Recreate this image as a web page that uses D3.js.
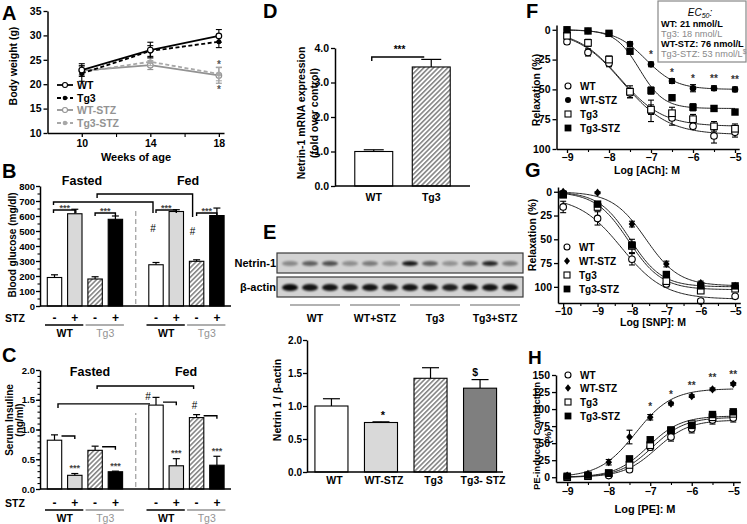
<!DOCTYPE html>
<html><head><meta charset="utf-8">
<script src="https://cdn.jsdelivr.net/npm/d3@7/dist/d3.min.js"></script>
<style>html,body{margin:0;padding:0;background:#fff;}svg{display:block;}</style>
</head><body>
<svg id="chart" width="747" height="524" xmlns="http://www.w3.org/2000/svg"></svg>
<script>
// ================= DATA =================
// Panel A: body weight
const weeksA = [10, 14, 18];
const seriesA = ["WT", "Tg3", "WT-STZ", "Tg3-STZ"];
const bwWT = [22.9, 27.0, 29.9];
const bwTg3 = [22.2, 26.8, 28.7];
const bwWTSTZ = [22.8, 23.9, 21.8];
const bwTg3STZ = [22.5, 24.6, 22.1];
const bwWTErr = [1.3, 1.6, 1.3];
const bwTg3Err = [1.6, 1.1, 1.2];
const bwWTSTZErr = [0.8, 0.9, 1.6];
const bwTg3STZErr = [0.7, 0.8, 1.4];
const ticksAY = [10, 15, 20, 25, 30, 35];
const ticksAX = [10, 14, 18];
const minorAX = [12, 16];

// Panels B, C: grouped bars
const feedStates = ["Fasted", "Fed"];
const genotypes = ["WT", "Tg3"];
const stzLevels = ["-", "+"];
const barCats = ["WT", "WT-STZ", "Tg3", "Tg3-STZ"];
const glucoseFasted = [190, 615, 180, 578];
const glucoseFastedErr = [18, 30, 15, 22];
const glucoseFed = [275, 630, 298, 603];
const glucoseFedErr = [15, 12, 10, 50];
const ticksB = [0, 100, 200, 300, 400, 500, 600, 700, 800];
const insulinFasted = [0.82, 0.23, 0.65, 0.29];
const insulinFastedErr = [0.09, 0.03, 0.07, 0.01];
const insulinFed = [1.41, 0.39, 1.20, 0.40];
const insulinFedErr = [0.13, 0.12, 0.05, 0.15];
const ticksC = [0, 0.5, 1.0, 1.5, 2.0];

// Panel D
const mrnaCats = ["WT", "Tg3"];
const mrna = [1.0, 3.45];
const mrnaErr = [0.05, 0.22];
const ticksD = [0, 1, 2, 3, 4];

// Panel E
const blotGroups = ["WT", "WT+STZ", "Tg3", "Tg3+STZ"];
const netrinBand = [0.35, 0.55, 0.62, 0.32, 0.42, 0.3, 0.88, 0.55, 0.3, 0.5, 0.82, 0.42];
const actinBand = [0.95, 0.9, 0.9, 0.88, 0.9, 0.86, 0.9, 0.9, 0.85, 0.92, 0.9, 0.92];
const eCats = ["WT", "WT-STZ", "Tg3", "Tg3- STZ"];
const netrinRatio = [1.0, 0.75, 1.42, 1.27];
const netrinRatioErr = [0.11, 0.01, 0.16, 0.13];
const ticksE = [0, 0.5, 1.0, 1.5, 2.0];

// Panels F, G, H (order: WT, WT-STZ, Tg3, Tg3-STZ)
const drGroups = ["WT", "WT-STZ", "Tg3", "Tg3-STZ"];
const logAch = [-9, -8.5, -8, -7.5, -7, -6.5, -6, -5.5, -5];
const fWT = [10, 19, 28, 53, 68, 74, 81, 89, 86];
const fWTSTZ = [0, 1, 3, 12, 29, 43, 49, 49, 50];
const fTg3 = [5, 11, 25, 52, 67, 70, 75, 81, 83];
const fTg3STZ = [0, 1, 3, 18, 51, 57, 65, 66, 69];
const fWTErr = [2, 3, 3, 4, 9, 6, 2, 6, 4];
const fWTSTZErr = [1, 1, 1, 2, 2, 2, 3, 2, 2];
const fTg3Err = [2, 3, 3, 5, 4, 5, 4, 4, 4];
const fTg3STZErr = [1, 1, 1, 2, 3, 2, 3, 2, 2];
const ec50Names = ["WT", "Tg3", "WT-STZ", "Tg3-STZ"];
const ec50nM = [21, 18, 76, 53];
const fFitTop = [88, 50, 81, 66];
const fFitHill = [0.8, 1.2, 0.85, 1.5];
const fStarX = [-7, -6.5, -6, -5.5, -5];
const fStarY = [21, 36, 40.5, 40.5, 42];
const fStars = ["*", "*", "*", "**", "**"];

const logSnp = [-10, -9, -8, -7, -6, -5];
const gWT = [16, 28, 71, 97, 115, 110];
const gWTSTZ = [0, 1, 34, 76, 96, 99];
const gTg3 = [3, 16, 57, 94, 104, 102];
const gTg3STZ = [3, 13, 56, 87, 99, 99];
const gWTErr = [6, 7, 6, 3, 2, 2];
const gWTSTZErr = [1, 1, 3, 3, 2, 1];
const gTg3Err = [2, 3, 7, 3, 2, 2];
const gTg3STZErr = [1, 2, 3, 3, 2, 1];
const gFitBottom = [5, 0, 0, 0];
const gFitTop = [113, 99, 103, 100];
const gFitLogEC50 = [-8.3, -7.6, -8.1, -8.05];
const gFitHill = [0.7, 0.9, 0.9, 0.95];

const logPe = [-9, -8.5, -8, -7.5, -7, -6.5, -6, -5.5, -5];
const hWT = [0, 1.5, 2.5, 11, 44, 59, 71, 84, 87];
const hWTSTZ = [2.5, 5, 22, 59, 88, 108, 119, 129, 137];
const hTg3 = [0, 1.5, 6, 18, 47, 69, 78, 88, 93];
const hTg3STZ = [1.5, 3, 6, 27, 55, 69, 76, 92, 96];
const hWTErr = [1, 1, 1, 2, 4, 6, 6, 6, 6];
const hWTSTZErr = [1, 1, 4, 10, 4, 2, 2, 2, 2];
const hTg3Err = [1, 1, 1, 4, 4, 4, 3, 3, 3];
const hTg3STZErr = [1, 1, 1, 2, 3, 3, 3, 3, 3];
const hFitTop = [84, 130, 88, 90];
const hFitLogEC50 = [-6.85, -7.35, -6.95, -7.05];
const hFitHill = [1.1, 1.0, 1.1, 1.1];
const hStarX = [-7, -6.5, -6, -5.5, -5];
const hStarY = [104, 122, 135, 146, 151];
const hStars = ["*", "*", "**", "**", "**"];

// ================= DRAW =================
const FONT = "'Liberation Sans', Arial, Helvetica, sans-serif";
const GRAY = "#939393";
const svg = d3.select("#chart");
svg.append("rect").attr("width", 747).attr("height", 524).attr("fill", "#fff");
const defs = svg.append("defs");
const pat = defs.append("pattern").attr("id", "hatch").attr("patternUnits", "userSpaceOnUse")
  .attr("width", 3.4).attr("height", 3.4).attr("patternTransform", "rotate(45)");
pat.append("rect").attr("width", 3.4).attr("height", 3.4).attr("fill", "#fff");
pat.append("line").attr("x1", 0.8).attr("y1", 0).attr("x2", 0.8).attr("y2", 3.4).attr("stroke", "#6a6a6a").attr("stroke-width", 1.3);
defs.append("filter").attr("id", "blur").attr("x", "-50%").attr("y", "-80%").attr("width", "200%").attr("height", "260%")
  .append("feGaussianBlur").attr("stdDeviation", 1.3);

const BAR_FILLS = ["#fff", "#d9d9d9", "url(#hatch)", "#000"];

function styleAxis(g, fs) {
  g.attr("font-family", FONT).attr("font-size", fs || 10.5).attr("font-weight", "bold");
  g.select(".domain").attr("stroke", "#000").attr("stroke-width", 1.5);
  g.selectAll(".tick line").attr("stroke", "#000").attr("stroke-width", 1.3);
  g.selectAll(".tick text").attr("fill", "#000");
}
function addAxis(parent, gen, tx, ty, fs) {
  const g = parent.append("g").attr("transform", `translate(${tx},${ty})`).call(gen);
  styleAxis(g, fs);
  return g;
}
function minorTicks(parent, gen, tx, ty) {
  const g = parent.append("g").attr("transform", `translate(${tx},${ty})`).call(gen.tickFormat(""));
  g.select(".domain").remove();
  g.selectAll(".tick line").attr("stroke", "#000").attr("stroke-width", 1.1);
}
function label(parent, x, y, s, o = {}) {
  const t = parent.append("text").attr("x", x).attr("y", y)
    .attr("font-family", FONT).attr("font-size", o.size || 10.5)
    .attr("font-weight", o.weight || "bold").attr("fill", o.fill || "#000")
    .attr("text-anchor", o.anchor || "middle").attr("dominant-baseline", "central");
  if (o.rotate) t.attr("transform", `rotate(-90,${x},${y})`);
  if (o.italic) t.attr("font-style", "italic");
  t.text(s);
  return t;
}
function panelLetter(x, y, s, size) {
  svg.append("text").attr("x", x).attr("y", y).attr("font-family", FONT).attr("font-size", size || 20)
    .attr("font-weight", "bold").text(s);
}
function hline(g, x1, x2, y, color, w) {
  return g.append("line").attr("x1", x1).attr("x2", x2).attr("y1", y).attr("y2", y).attr("stroke", color || "#000").attr("stroke-width", w || 1.1);
}
function vline(g, x, y1, y2, color, w) {
  return g.append("line").attr("x1", x).attr("x2", x).attr("y1", y1).attr("y2", y2).attr("stroke", color || "#000").attr("stroke-width", w || 1.1);
}
function errSym(g, x, y1, y2, cap, color) {
  vline(g, x, y1, y2, color);
  hline(g, x - cap / 2, x + cap / 2, y1, color);
  hline(g, x - cap / 2, x + cap / 2, y2, color);
}
function errUp(g, x, yBase, yTop, cap) {
  vline(g, x, yBase, yTop, "#000", 1.2);
  hline(g, x - cap / 2, x + cap / 2, yTop, "#000", 1.2);
}
function bracket(g, x1, x2, y, d1, d2, color) {
  g.append("path").attr("d", `M${x1},${y + d1}V${y}H${x2}V${y + d2}`)
    .attr("fill", "none").attr("stroke", color || "#000").attr("stroke-width", 1.4);
}
function marker(g, type, x, y, s) {
  s = s || 3.3;
  if (type === "circleOpen") g.append("circle").attr("cx", x).attr("cy", y).attr("r", s).attr("fill", "#fff").attr("stroke", "#000").attr("stroke-width", 1.1);
  else if (type === "circleFilled") g.append("circle").attr("cx", x).attr("cy", y).attr("r", s).attr("fill", "#000");
  else if (type === "squareOpen") g.append("rect").attr("x", x - s).attr("y", y - s).attr("width", 2 * s).attr("height", 2 * s).attr("fill", "#fff").attr("stroke", "#000").attr("stroke-width", 1.1);
  else if (type === "squareFilled") g.append("rect").attr("x", x - s - 0.4).attr("y", y - s - 0.4).attr("width", 2 * s + 0.8).attr("height", 2 * s + 0.8).attr("fill", "#000");
  else if (type === "diamondFilled") g.append("path").attr("d", `M${x},${y - s - 0.8}L${x + s},${y}L${x},${y + s + 0.8}L${x - s},${y}Z`).attr("fill", "#000");
}

// ---------- Panel A ----------
(function () {
  const g = svg.append("g");
  const xA = d3.scaleLinear().domain([8, 18.3]).range([47.5, 224]);
  const yA = d3.scaleLinear().domain([10, 35]).range([133, 11]);
  addAxis(g, d3.axisLeft(yA).tickValues(ticksAY).tickSize(4).tickSizeOuter(0).tickPadding(2), xA(8), 0);
  addAxis(g, d3.axisBottom(xA).tickValues(ticksAX).tickSize(4).tickSizeOuter(0).tickPadding(3), 0, yA(10));
  minorTicks(g, d3.axisBottom(xA).tickValues(minorAX).tickSize(4), 0, yA(10));
  const series = [
    { v: bwWTSTZ, e: bwWTSTZErr, color: GRAY, dash: null, mk: "open", name: seriesA[2] },
    { v: bwTg3STZ, e: bwTg3STZErr, color: "#a8a8a8", dash: "4,2.5", mk: "filled", name: seriesA[3] },
    { v: bwTg3, e: bwTg3Err, color: "#000", dash: "4,2.5", mk: "filled", name: seriesA[1] },
    { v: bwWT, e: bwWTErr, color: "#000", dash: null, mk: "open", name: seriesA[0] }
  ];
  const line = d3.line().x((d, i) => xA(weeksA[i])).y(d => yA(d));
  series.forEach(s => {
    s.v.forEach((v, i) => errSym(g, xA(weeksA[i]), yA(v + s.e[i]), yA(v - s.e[i]), 6, s.color));
    g.append("path").attr("d", line(s.v)).attr("fill", "none").attr("stroke", s.color)
      .attr("stroke-width", 1.8).attr("stroke-dasharray", s.dash);
    s.v.forEach((v, i) => {
      if (s.mk === "open") g.append("circle").attr("cx", xA(weeksA[i])).attr("cy", yA(v)).attr("r", 2.8).attr("fill", "#fff").attr("stroke", s.color).attr("stroke-width", 1.2);
      else g.append("circle").attr("cx", xA(weeksA[i])).attr("cy", yA(v)).attr("r", 2.5).attr("fill", s.color);
    });
  });
  label(g, xA(18), yA(24.0), "*", { size: 10, fill: "#555" });
  label(g, xA(18), yA(18.9), "*", { size: 10, fill: "#555" });
  const legY = [85, 98, 110, 123];
  [3, 2, 0, 1].forEach((si, k) => {
    const s = series[si];
    g.append("line").attr("x1", 57).attr("x2", 73).attr("y1", legY[k]).attr("y2", legY[k])
      .attr("stroke", s.color).attr("stroke-width", 1.8).attr("stroke-dasharray", s.dash);
    if (s.mk === "open") g.append("circle").attr("cx", 65).attr("cy", legY[k]).attr("r", 2.5).attr("fill", "#fff").attr("stroke", s.color).attr("stroke-width", 1.1);
    else g.append("circle").attr("cx", 65).attr("cy", legY[k]).attr("r", 2.3).attr("fill", s.color);
    label(g, 77, legY[k], s.name, { anchor: "start", size: 10.5, fill: k < 2 ? "#000" : GRAY });
  });
  label(g, 13, 66, "Body weight (g)", { rotate: true, size: 10.5 });
  label(g, 136, 157, "Weeks of age", { size: 11 });
  panelLetter(2, 20, "A");
})();

// ---------- Panels B & C helpers ----------
const slotKeys = [...barCats.map(c => "Fasted|" + c), "gap", ...barCats.map(c => "Fed|" + c)];
function groupedPanel(g, ys, fasted, fastedErr, fed, fedErr, axisX, yTicks, minorStep, fmt, dashTop) {
  const xs = d3.scaleBand().domain(slotKeys).range([44.35, 227.05]).paddingInner(0.29).paddingOuter(0.145);
  const cx = k => xs(k) + xs.bandwidth() / 2;
  const y0 = ys(0);
  vline(g, cx("gap"), y0 - 2, dashTop, "#aaa", 1.4).attr("stroke-dasharray", "5,3");
  feedStates.forEach((st, si) => {
    const vals = si ? fed : fasted, errs = si ? fedErr : fastedErr;
    barCats.forEach((c, ci) => {
      const k = st + "|" + c, x0 = xs(k), w = xs.bandwidth();
      const top = ys(vals[ci]);
      errUp(g, x0 + w / 2, top, ys(vals[ci] + errs[ci]), 7);
      g.append("rect").attr("x", x0).attr("y", top).attr("width", w).attr("height", y0 - top)
        .attr("fill", BAR_FILLS[ci]).attr("stroke", "#000").attr("stroke-width", 1.1);
    });
  });
  const dom = ys.domain();
  minorTicks(g, d3.axisLeft(ys).tickValues(d3.range(dom[0], dom[1] + 1e-9, minorStep)).tickSize(2.5), axisX, 0);
  addAxis(g, d3.axisLeft(ys).tickValues(yTicks).tickFormat(fmt).tickSize(4).tickSizeOuter(0).tickPadding(1), axisX, 0, 9.5);
  hline(g, axisX, 231, y0, "#000", 1.6);
  return { xs, cx };
}
function stzRow(g, cx, yRow, yLine, yLab) {
  label(g, 15, yRow, "STZ", { size: 10.5 });
  feedStates.forEach(st => {
    genotypes.forEach((gt, gi) => {
      const kA = st + "|" + barCats[gi * 2], kB = st + "|" + barCats[gi * 2 + 1];
      label(g, cx(kA), yRow, stzLevels[0], { size: 12 });
      label(g, cx(kB), yRow, stzLevels[1], { size: 12 });
      hline(g, cx(kA) - 9.5, cx(kB) + 8.5, yLine, gi ? GRAY : "#000", 1.5);
      label(g, (cx(kA) + cx(kB)) / 2, yLab, gt, { size: 10.5, fill: gi ? GRAY : "#000", weight: gi ? "normal" : "bold" });
    });
  });
}

// ---------- Panel B ----------
(function () {
  const g = svg.append("g");
  const ys = d3.scaleLinear().domain([0, 800]).range([306, 186]);
  const { cx } = groupedPanel(g, ys, glucoseFasted, glucoseFastedErr, glucoseFed, glucoseFedErr, 40, ticksB, 50, d3.format("d"), 208);
  const k = slotKeys;
  bracket(g, cx(k[0]) - 1, cx(k[1]) + 1, ys(640), 3, 3);
  label(g, (cx(k[0]) + cx(k[1])) / 2, ys(655), "***", { size: 9, fill: "#444" });
  bracket(g, cx(k[2]), cx(k[3]), ys(620), 3, 3);
  label(g, (cx(k[2]) + cx(k[3])) / 2, ys(635), "***", { size: 9, fill: "#444" });
  bracket(g, cx(k[5]), cx(k[6]), ys(640), 3, 3);
  label(g, (cx(k[5]) + cx(k[6])) / 2, ys(655), "***", { size: 9, fill: "#444" });
  bracket(g, cx(k[7]), cx(k[8]), ys(620), 3, 3);
  label(g, (cx(k[7]) + cx(k[8])) / 2, ys(635), "***", { size: 9, fill: "#444" });
  bracket(g, cx(k[0]) - 1, cx(k[5]) - 3, ys(693), 3, 11);
  bracket(g, cx(k[2]) + 2, cx(k[7]) - 4, ys(747), 4, 23);
  label(g, cx(k[5]) - 3, ys(520), "#", { size: 10, weight: "normal" });
  label(g, cx(k[7]) - 4, ys(495), "#", { size: 10, weight: "normal" });
  label(g, 82, 181, feedStates[0], { size: 12.5 });
  label(g, 188, 181, feedStates[1], { size: 12.5 });
  stzRow(g, cx, 318, 325, 333);
  label(g, 12, 245, "Blood glucose (mg/dl)", { rotate: true, size: 10 });
  panelLetter(2, 178, "B");
})();

// ---------- Panel C ----------
(function () {
  const g = svg.append("g");
  const ys = d3.scaleLinear().domain([0, 2]).range([489, 370]);
  const { cx } = groupedPanel(g, ys, insulinFasted, insulinFastedErr, insulinFed, insulinFedErr, 40, ticksC, 0.1, d3.format(".1f"), 413);
  const k = slotKeys;
  bracket(g, cx(k[0]) + 7, cx(k[1]), ys(0.89), 0, 3);
  bracket(g, cx(k[2]) + 7, cx(k[3]), ys(0.71), 0, 3);
  bracket(g, cx(k[5]) + 7, cx(k[6]), ys(1.46), 0, 3);
  bracket(g, cx(k[7]) + 7, cx(k[8]), ys(1.23), 0, 3);
  bracket(g, cx(k[0]) + 3.5, cx(k[5]) - 6, ys(1.43), 4, 0);
  bracket(g, cx(k[2]) + 2, cx(k[7]) - 3, ys(1.73), 3, 3);
  label(g, cx(k[1]), ys(0.36), "***", { size: 9, fill: "#444" });
  label(g, cx(k[3]), ys(0.39), "***", { size: 9, fill: "#444" });
  label(g, cx(k[6]), ys(0.6), "***", { size: 9, fill: "#444" });
  label(g, cx(k[8]), ys(0.64), "***", { size: 9, fill: "#444" });
  label(g, cx(k[5]) - 8, ys(1.56), "#", { size: 10, weight: "normal" });
  label(g, cx(k[7]) - 2, ys(1.41), "#", { size: 10, weight: "normal" });
  label(g, 90, 372, feedStates[0], { size: 12.5 });
  label(g, 186, 372, feedStates[1], { size: 12.5 });
  stzRow(g, cx, 503, 510, 518);
  label(g, 9, 420, "Serum Insuline", { rotate: true, size: 10 });
  label(g, 19.5, 420, "(ng/ml)", { rotate: true, size: 10 });
  panelLetter(2, 362, "C");
})();

// ---------- Panel D ----------
(function () {
  const g = svg.append("g");
  const xs = d3.scaleBand().domain(mrnaCats).range([335, 470]).paddingInner(0.34).paddingOuter(0.344);
  const ys = d3.scaleLinear().domain([0, 4]).range([186, 48]);
  const fills = ["#fff", "url(#hatch)"];
  mrnaCats.forEach((c, i) => {
    const x0 = xs(c), w = xs.bandwidth(), top = ys(mrna[i]);
    errUp(g, x0 + w / 2, top, ys(mrna[i] + mrnaErr[i]), 20);
    g.append("rect").attr("x", x0).attr("y", top).attr("width", w).attr("height", ys(0) - top)
      .attr("fill", fills[i]).attr("stroke", "#000").attr("stroke-width", 1.1);
    label(g, x0 + w / 2, 197, c, { size: 10.5 });
  });
  addAxis(g, d3.axisLeft(ys).tickValues(ticksD).tickSize(4).tickSizeOuter(0).tickPadding(2), 335, 0);
  hline(g, 335, 470, ys(0), "#000", 1.6);
  const cW = xs("WT") + xs.bandwidth() / 2, cT = xs("Tg3") + xs.bandwidth() / 2;
  bracket(g, cW - 2, cT - 7, ys(3.74), 4, 0);
  label(g, (cW + cT) / 2 - 3, ys(3.95), "***", { size: 10 });
  label(g, 301, 113, "Netrin-1 mRNA expression", { rotate: true, size: 10.5 });
  label(g, 314, 113, "(fold over control)", { rotate: true, size: 10.5 });
  panelLetter(263, 18, "D");
})();

// ---------- Panel E ----------
(function () {
  const g = svg.append("g");
  const lanes = d3.scaleBand().domain(d3.range(netrinBand.length)).range([280, 520]);
  const lc = i => lanes(i) + lanes.bandwidth() / 2;
  const rows = [{ y: 253, h: 20, bands: netrinBand, ry: 2.6, name: "Netrin-1" },
                { y: 277, h: 20, bands: actinBand, ry: 3.6, name: "β-actin" }];
  rows.forEach(r => {
    g.append("rect").attr("x", 277).attr("y", r.y).attr("width", 246).attr("height", r.h)
      .attr("fill", "#d2d2d2").attr("stroke", "#3a3a3a").attr("stroke-width", 1.2);
    r.bands.forEach((v, i) => {
      g.append("ellipse").attr("cx", lc(i)).attr("cy", r.y + r.h / 2 + 0.5).attr("rx", 8).attr("ry", r.ry)
        .attr("fill", "#000").attr("opacity", v).attr("filter", "url(#blur)");
    });
    label(g, 276, r.y + r.h / 2, r.name, { anchor: "end", size: 11 });
  });
  blotGroups.forEach((gr, gi) => {
    const a = lc(gi * 3), b = lc(gi * 3 + 2) + 10;
    hline(g, a, b, 305, "#999", 1.5);
    label(g, (a + b) / 2, 318, gr, { size: 10.5 });
  });
  const xs = d3.scaleBand().domain(eCats).range([307, 504.5]).paddingInner(0.333).paddingOuter(0.16);
  const ys = d3.scaleLinear().domain([0, 2]).range([472, 340]);
  const fills = ["#fff", "#d9d9d9", "url(#hatch)", "#7f7f7f"];
  eCats.forEach((c, i) => {
    const x0 = xs(c), w = xs.bandwidth(), top = ys(netrinRatio[i]);
    errUp(g, x0 + w / 2, top, ys(netrinRatio[i] + netrinRatioErr[i]), 17);
    g.append("rect").attr("x", x0).attr("y", top).attr("width", w).attr("height", ys(0) - top)
      .attr("fill", fills[i]).attr("stroke", "#000").attr("stroke-width", 1.1);
    label(g, x0 + w / 2 + 3, 480, c, { size: 10.5 });
  });
  addAxis(g, d3.axisLeft(ys).tickValues(ticksE).tickFormat(d3.format(".1f")).tickSize(4).tickSizeOuter(0).tickPadding(1), 307, 0, 10);
  hline(g, 307, 503, ys(0), "#000", 1.6);
  label(g, xs(eCats[1]) + xs.bandwidth() / 2 + 2, ys(0.87), "*", { size: 11 });
  label(g, xs(eCats[3]) + xs.bandwidth() / 2 - 5, ys(1.52), "$", { size: 10.5 });
  label(g, 277, 400, "Netrin 1 / β-actin", { rotate: true, size: 10.5 });
  panelLetter(263, 239, "E");
})();

// ---------- Dose-response helper ----------
function hill(x, b, t, lec, h) { return b + (t - b) / (1 + Math.pow(10, (lec - x) * h)); }
function doseResponse(o) {
  const g = svg.append("g");
  const { xs, ys, xVals, series, mks, fit, curveX } = o;
  const line = d3.line().x(d => xs(d[0])).y(d => ys(d[1]));
  fit.forEach(f => {
    const pts = d3.range(curveX[0], curveX[1] + 1e-9, 0.04).map(x => [x, hill(x, f[0], f[1], f[2], f[3])]);
    g.append("path").attr("d", line(pts)).attr("fill", "none").attr("stroke", "#222").attr("stroke-width", 1);
  });
  series.forEach(s => {
    s.v.forEach((v, i) => errSym(g, xs(xVals[i]), ys(v - s.e[i]), ys(v + s.e[i]), 6));
  });
  series.forEach((s, si) => {
    s.v.forEach((v, i) => marker(g, mks[si], xs(xVals[i]), ys(v)));
  });
  addAxis(g, d3.axisLeft(ys).tickValues(o.yTicks).tickSize(4).tickSizeOuter(0).tickPadding(2), xs.range()[0], 0);
  const xt = d3.range(Math.ceil(xVals[0]), xVals[xVals.length - 1] + 1e-9, 1);
  const xm = d3.range(Math.ceil(xVals[0]) + 0.5, xVals[xVals.length - 1], 1);
  addAxis(g, d3.axisBottom(xs).tickValues(xt).tickFormat(d3.format("d")).tickSize(4).tickSizeOuter(0).tickPadding(o.xPad || 2), 0, o.xAxisY);
  minorTicks(g, d3.axisBottom(xs).tickValues(xm).tickSize(3), 0, o.xAxisY);
  drGroups.forEach((n, i) => {
    marker(g, mks[i], o.legX, o.legY[i], 3);
    label(g, o.legX + 12, o.legY[i], n, { anchor: "start", size: 10 });
  });
  return g;
}

// ---------- Panel F ----------
(function () {
  const xs = d3.scaleLinear().domain([-9.25, -4.9]).range([556.5, 739.2]);
  const ys = d3.scaleLinear().domain([-4, 100]).range([25, 149]);
  const ecIdx = drGroups.map(n => ec50Names.indexOf(n));
  const fit = drGroups.map((n, i) => [0, fFitTop[i], Math.log10(ec50nM[ecIdx[i]] * 1e-9), fFitHill[i]]);
  const g = doseResponse({
    xs, ys, xVals: logAch,
    series: [{ v: fWT, e: fWTErr }, { v: fWTSTZ, e: fWTSTZErr }, { v: fTg3, e: fTg3Err }, { v: fTg3STZ, e: fTg3STZErr }],
    mks: ["circleOpen", "circleFilled", "squareOpen", "squareFilled"],
    fit, curveX: [-9, -5], yTicks: [0, 25, 50, 75, 100], xAxisY: 149, xPad: 1,
    legX: 568, legY: [86, 100, 114, 128]
  });
  fStarX.forEach((x, i) => label(g, xs(x), ys(fStarY[i]), fStars[i], { size: 10, fill: "#333" }));
  label(g, 536, 90, "Relaxation (%)", { rotate: true, size: 10.5 });
  label(g, 647, 170, "Log [ACh]: M", { size: 10.5 });
  g.append("rect").attr("x", 658).attr("y", 1).attr("width", 88).attr("height", 61)
    .attr("fill", "#fff").attr("stroke", "#888").attr("stroke-width", 1.2);
  const t = g.append("text").attr("x", 700).attr("y", 12).attr("text-anchor", "middle").attr("dominant-baseline", "central")
    .attr("font-family", FONT).attr("font-size", 10).attr("font-style", "italic");
  t.append("tspan").text("EC");
  t.append("tspan").attr("font-size", 7).attr("dy", 2.5).text("50");
  t.append("tspan").attr("dy", -2.5).text(":");
  const ys2 = [24, 34, 44, 54];
  ec50Names.forEach((n, i) => {
    const dark = n.indexOf("Tg3") !== 0;
    const tt = g.append("text").attr("x", 661).attr("y", ys2[i]).attr("dominant-baseline", "central")
      .attr("font-family", FONT).attr("font-size", 9.2).attr("font-weight", dark ? "bold" : "normal")
      .attr("fill", dark ? "#000" : "#888");
    tt.append("tspan").text(`${n}: ${ec50nM[i]} nmol/L`);
    if (i === 3) tt.append("tspan").attr("font-size", 6.5).attr("dy", -3).text("$");
  });
  panelLetter(526, 18, "F");
})();

// ---------- Panel G ----------
(function () {
  const xs = d3.scaleLinear().domain([-10.15, -4.85]).range([558, 740.3]);
  const ys = d3.scaleLinear().domain([-5, 117]).range([187, 303]);
  const fit = drGroups.map((n, i) => [gFitBottom[i], gFitTop[i], gFitLogEC50[i], gFitHill[i]]);
  doseResponse({
    xs, ys, xVals: logSnp,
    series: [{ v: gWT, e: gWTErr }, { v: gWTSTZ, e: gWTSTZErr }, { v: gTg3, e: gTg3Err }, { v: gTg3STZ, e: gTg3STZErr }],
    mks: ["circleOpen", "diamondFilled", "squareOpen", "squareFilled"],
    fit, curveX: [-10, -5], yTicks: [0, 25, 50, 75, 100], xAxisY: 303, xPad: 1,
    legX: 567, legY: [247, 261, 275, 289]
  });
  label(svg, 532, 235, "Relaxation (%)", { rotate: true, size: 10.5 });
  label(svg, 653, 322, "Log [SNP]: M", { size: 10.5 });
  panelLetter(525, 177, "G");
})();

// ---------- Panel H ----------
(function () {
  const xs = d3.scaleLinear().domain([-9.27, -4.83]).range([556, 740.3]);
  const ys = d3.scaleLinear().domain([-7, 150]).range([482, 375]);
  const fit = drGroups.map((n, i) => [0, hFitTop[i], hFitLogEC50[i], hFitHill[i]]);
  const g = doseResponse({
    xs, ys, xVals: logPe,
    series: [{ v: hWT, e: hWTErr }, { v: hWTSTZ, e: hWTSTZErr }, { v: hTg3, e: hTg3Err }, { v: hTg3STZ, e: hTg3STZErr }],
    mks: ["circleOpen", "diamondFilled", "squareOpen", "squareFilled"],
    fit, curveX: [-9, -5], yTicks: [0, 25, 50, 75, 100, 125, 150], xAxisY: 482,
    legX: 568, legY: [375, 388, 402, 416]
  });
  hStarX.forEach((x, i) => label(g, xs(x), ys(hStarY[i]), hStars[i], { size: 10, fill: "#333" }));
  label(svg, 536, 436, "PE-induced Contraction", { rotate: true, size: 9.5 });
  label(svg, 547, 436, "(%)", { rotate: true, size: 9.5 });
  label(svg, 645, 509, "Log [PE]: M", { size: 11 });
  panelLetter(528, 364, "H", 19);
})();
</script>
</body></html>
